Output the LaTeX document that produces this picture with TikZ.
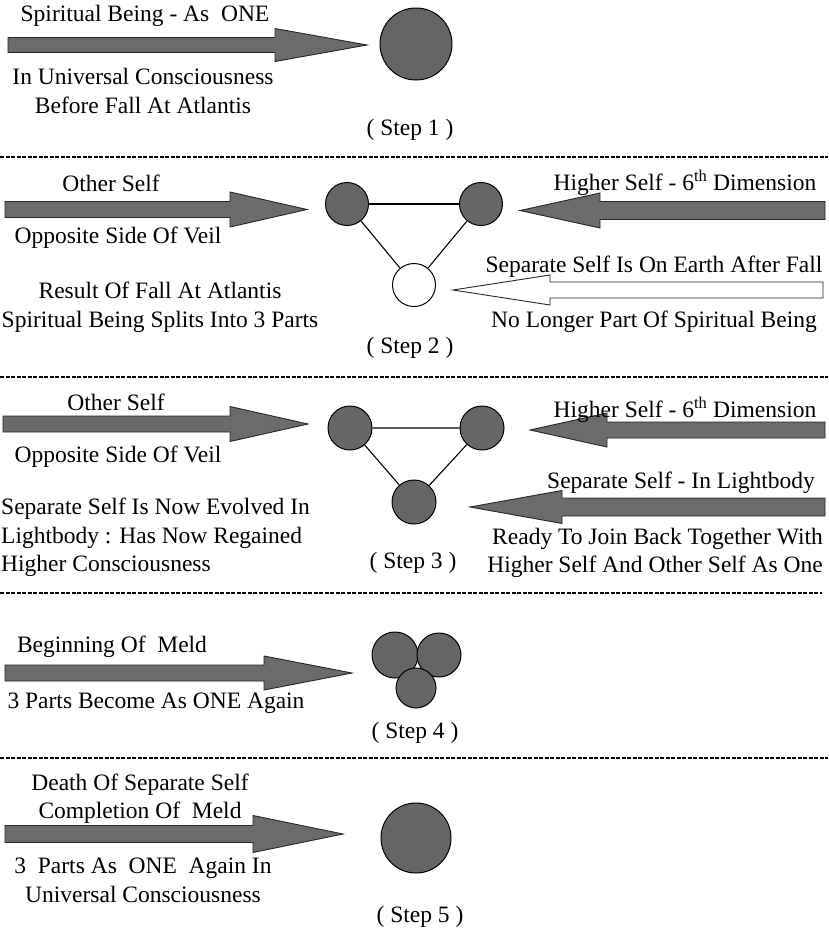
\documentclass[tikz,border=0pt]{standalone}
\usepackage{fontspec}
\setmainfont{Liberation Serif}
\newcommand{\fatarrow}[7][fat]{% tail x, head base x, tip x, y, shaft half, head half
  \draw[#1] (#2,#5-#6) -- (#3,#5-#6) -- (#3,#5-#7) -- (#4,#5)
    -- (#3,#5+#7) -- (#3,#5+#6) -- (#2,#5+#6) -- cycle;}
\begin{document}
\begin{tikzpicture}[x=1pt,y=-1pt,
        txt/.style={font=\fontsize{23.5}{28.5}\selectfont, align=center, inner sep=1pt},
        ball/.style={circle, draw, line width=1pt, fill=black!60, inner sep=0pt, minimum size=#1},
        fat/.style={draw=black!85, fill=black!58, line width=0.9pt},
        hollow/.style={draw=black!85, fill=white, line width=0.9pt},
        link/.style={line width=1.1pt},
        divider/.style={line width=1.3pt, dash pattern=on 4pt off 1.5pt}]
    \useasboundingbox (0,0) rectangle (828,935);
    % step 1
    \fatarrow{8}{275}{367}{45}{7.5}{16.5}
    \node[ball=72pt] (one) at (416,44) {};
    \node[txt] (s1top) at (145,16) {Spiritual Being - As\ \ ONE};
    \node[txt] (s1bot) at (143,91) {In Universal Consciousness\\Before Fall At Atlantis};
    \node[txt] (step1) at (410,130) {(\ Step 1\ )};
    \draw[divider] (0,157) -- (828,157);
    % step 2
    \fatarrow{5}{230}{307}{209.5}{8}{17.5}
    \fatarrow{825}{600}{520}{210.5}{9}{17.5}
    \fatarrow[hollow]{823}{550}{453}{290}{8}{15}
    \node[ball=43pt] (oa) at (347,204) {};
    \node[ball=43pt] (ha) at (481,204) {};
    \node[ball=43pt, fill=white] (sa) at (414,285) {};
    \draw[line width=2.2pt] (oa) -- (ha);
    \draw[link] (oa) -- (sa) (ha) -- (sa);
    \node[txt] (os2) at (111,183) {Other Self};
    \node[txt] (ov2) at (118,238) {Opposite Side Of Veil};
    \node[txt] (fall2) at (160,307.5) {Result Of Fall At Atlantis\\Spiritual Being Splits Into 3 Parts};
    \node[txt] (hs2) at (685,183) {Higher Self - 6\textsuperscript{th} Dimension};
    \node[txt] (se2) at (654,267) {Separate Self Is On Earth After Fall};
    \node[txt] (nl2) at (654,322) {No Longer Part Of Spiritual Being};
    \node[txt] (step2) at (410,348) {(\ Step 2\ )};
    \draw[divider] (0,377) -- (828,377);
    % step 3
    \fatarrow{3}{230}{308}{424}{8}{17.5}
    \fatarrow{825}{607}{530}{430}{8}{17}
    \fatarrow{825}{562}{470}{507}{9}{16.5}
    \node[ball=44pt] (ob) at (350,428) {};
    \node[ball=44pt] (hb) at (482,428) {};
    \node[ball=44pt] (sb) at (414,502) {};
    \draw[link] (ob) -- (hb) (ob) -- (sb) (hb) -- (sb);
    \node[txt] (os3) at (116,402) {Other Self};
    \node[txt] (ov3) at (118,457) {Opposite Side Of Veil};
    \node[txt, align=left, anchor=west] (ev3) at (0,537.5)
        {Separate Self Is Now Evolved In\\Lightbody : Has Now Regained\\Higher Consciousness};
    \node[txt] (hs3) at (685,410) {Higher Self - 6\textsuperscript{th} Dimension};
    \node[txt] (se3) at (681,483) {Separate Self - In Lightbody};
    \node[txt, align=right, anchor=east] (rj3) at (824,553)
        {Ready To Join Back Together With\\Higher Self And Other Self As One};
    \node[txt] (step3) at (413,563) {(\ Step 3\ )};
    \draw[divider] (0,593) -- (822,593);
    % step 4
    \fatarrow{5}{264}{352}{673}{8}{17}
    \node[ball=46pt] (m1) at (395,655) {};
    \node[ball=44pt] (m2) at (439,655) {};
    \node[ball=40pt] (m3) at (416,688) {};
    \node[txt] (bm4) at (112,647) {Beginning Of\ \ Meld};
    \node[txt] (pb4) at (156,703) {3 Parts Become As ONE Again};
    \node[txt] (step4) at (415,733) {(\ Step 4\ )};
    \draw[divider] (0,758) -- (828,758);
    % step 5
    \fatarrow{5}{253}{343}{834}{8.5}{18.5}
    \node[ball=70pt] (whole) at (416,838) {};
    \node[txt] (dm5) at (140,798.5) {Death Of Separate Self\\Completion Of\ \ Meld};
    \node[txt] (pa5) at (143,880.5) {3\ \ Parts As\ \ ONE\ \ Again In\\Universal Consciousness};
    \node[txt] (step5) at (420,917) {(\ Step 5\ )};
\end{tikzpicture}
\end{document}
